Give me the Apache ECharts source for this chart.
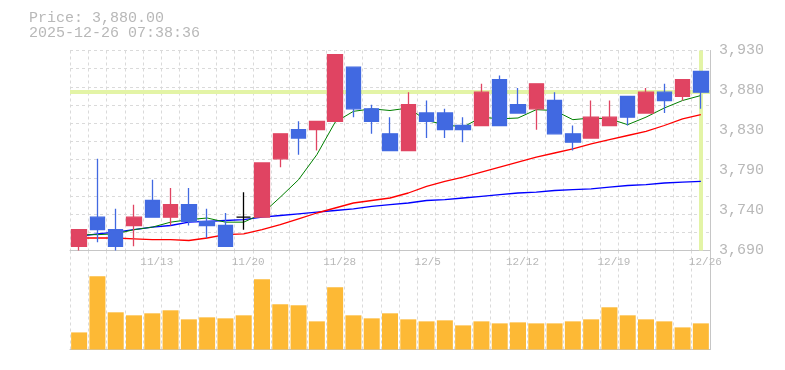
<!DOCTYPE html>
<html>
<head>
<meta charset="utf-8">
<script src="https://cdn.jsdelivr.net/npm/echarts@6/dist/echarts.min.js"></script>
<style>
html,body{margin:0;padding:0;background:#fff;}
#chart{width:785px;height:370px;}
</style>
</head>
<body>
<div id="chart"></div>
<script>
const dates = ['11/7','11/10','11/11','11/12','11/13','11/14','11/17','11/18','11/19','11/20','11/21','11/25','11/26','11/27','11/28','12/1','12/2','12/3','12/4','12/5','12/8','12/9','12/10','12/11','12/12','12/15','12/16','12/17','12/18','12/19','12/22','12/23','12/24','12/25','12/26'];
const opens  = [3695,3730,3715,3720,3750,3730,3745,3725,3720,3730,3730,3800,3835,3835,3845,3910,3860,3830,3810,3855,3855,3840,3840,3895,3865,3860,3870,3830,3825,3840,3875,3855,3880,3875,3905];
const closes = [3715,3715,3695,3730,3730,3745,3725,3720,3695,3730,3795,3830,3825,3845,3925,3860,3845,3810,3865,3845,3835,3835,3880,3840,3855,3890,3830,3820,3850,3850,3850,3880,3870,3895,3880];
const lows   = [3690,3700,3690,3695,3730,3720,3720,3705,3695,3715,3730,3790,3805,3810,3845,3850,3830,3810,3810,3825,3825,3820,3840,3840,3855,3835,3830,3810,3825,3840,3840,3855,3855,3870,3860];
const highs  = [3715,3800,3740,3745,3775,3765,3765,3740,3735,3760,3795,3830,3845,3845,3925,3910,3865,3850,3880,3870,3860,3850,3890,3900,3885,3890,3880,3840,3870,3870,3875,3885,3890,3895,3905];
const ma5    = [3709,3709,3710,3715,3718,3724,3727,3729,3724,3724,3734,3754,3775,3805,3844,3857,3860,3858,3861,3846,3841,3838,3850,3848,3849,3859,3858,3847,3849,3848,3841,3850,3861,3870,3876];
const ma25   = [3705,3705,3705,3704,3703,3703,3702,3705,3709,3710,3715,3721,3728,3735,3741,3747,3750,3753,3759,3767,3773,3778,3784,3790,3796,3802,3807,3812,3818,3823,3828,3833,3840,3848,3853];
const ma75   = [3707,3710,3712,3715,3718,3720,3724,3725,3726,3727,3730,3732,3734,3736,3738,3740,3743,3745,3747,3750,3751,3753,3755,3757,3759,3760,3762,3763,3764,3766,3768,3769,3771,3772,3773];
const volumes = [170,730,370,340,360,390,300,320,310,340,700,450,440,280,620,340,310,360,300,280,290,240,280,260,270,260,260,280,300,420,340,300,280,220,260];
const xTickLabels = ['11/13','11/20','11/28','12/5','12/12','12/19','12/26'];
const priceTicks = [3690,3738,3786,3834,3882,3930];
const currentPrice = 3880;
const timestamp = '2025-12-26 07:38:36';

const FONT = "'Liberation Mono', monospace";
const GRAY = '#b8b8b8';
const AXIS = '#c6c6c6';
const GRID = '#dadada';

const candleData = dates.map((d, i) => [opens[i], closes[i], lows[i], highs[i]]);
const fmt = v => (Math.round(v / 10) * 10).toLocaleString('en-US');

const chart = echarts.init(document.getElementById('chart'), null, {renderer: 'canvas'});
chart.setOption({
  animation: false,
  backgroundColor: '#fff',
  title: {
    left: 29, top: 11, padding: 0,
    text: 'Price: ' + currentPrice.toLocaleString('en-US', {minimumFractionDigits: 2}) + '\n' + timestamp,
    textStyle: {fontFamily: FONT, fontSize: 15, fontWeight: 'normal', color: GRAY, lineHeight: 14.5}
  },
  grid: [
    {left: 70, right: 75, top: 50.5, height: 200},
    {left: 70, right: 75, top: 250.5, height: 99}
  ],
  xAxis: [
    {
      type: 'category', gridIndex: 0, data: dates, boundaryGap: true,
      axisLine: {lineStyle: {color: AXIS, width: 1}},
      axisTick: {show: false},
      splitLine: {show: true, interval: 0, lineStyle: {color: GRID, type: [3, 3], width: 1}},
      axisLabel: {
        interval: (idx, val) => xTickLabels.includes(val),
        align: 'left', padding: [0, 0, 0, -12], margin: 6,
        fontFamily: FONT, fontSize: 11, color: GRAY, hideOverlap: false
      }
    },
    {
      type: 'category', gridIndex: 1, data: dates, boundaryGap: true,
      axisLine: {lineStyle: {color: AXIS, width: 1}},
      axisTick: {show: false},
      axisLabel: {show: false},
      splitLine: {show: true, interval: 0, lineStyle: {color: GRID, type: [3, 3], width: 1}}
    }
  ],
  yAxis: [
    {
      type: 'value', gridIndex: 0, position: 'right', min: 3690, max: 3930, scale: true,
      axisLine: {show: true, lineStyle: {color: AXIS, width: 1}},
      axisTick: {show: false},
      splitLine: {show: false},
      axisLabel: {
        customValues: priceTicks, formatter: fmt, margin: 9,
        padding: [5, 0, 0, 0],
        fontFamily: FONT, fontSize: 15, color: GRAY
      }
    },
    {
      type: 'value', gridIndex: 1, position: 'right', min: 0, max: 985,
      axisLine: {show: true, lineStyle: {color: AXIS, width: 1}},
      axisTick: {show: false}, axisLabel: {show: false}, splitLine: {show: false}
    },
    {
      type: 'value', gridIndex: 0, position: 'left', min: 0, max: 11, interval: 1,
      axisLine: {show: false}, axisTick: {show: false}, axisLabel: {show: false},
      splitLine: {show: true, lineStyle: {color: GRID, type: [3, 3], width: 1}}
    }
  ],
  series: [
    {
      type: 'line', name: 'MA75', xAxisIndex: 0, yAxisIndex: 0, data: ma75, z: 2,
      symbol: 'none', lineStyle: {color: '#0000ff', width: 1.3},
      markLine: {
        z: 1, silent: true, symbol: ['none', 'none'], label: {show: false},
        lineStyle: {color: '#e3f4a6', width: 4, type: 'solid', opacity: 1},
        data: [{yAxis: currentPrice}, {xAxis: dates[dates.length - 1]}]
      }
    },
    {
      type: 'line', name: 'MA25', xAxisIndex: 0, yAxisIndex: 0, data: ma25, z: 2,
      symbol: 'none', lineStyle: {color: '#ff0000', width: 1.3}
    },
    {
      type: 'line', name: 'MA5', xAxisIndex: 0, yAxisIndex: 0, data: ma5, z: 2,
      symbol: 'none', lineStyle: {color: '#008000', width: 1}
    },
    {
      type: 'candlestick', xAxisIndex: 0, yAxisIndex: 0, data: candleData, z: 4,
      barWidth: 15,
      itemStyle: {
        color: '#e04462', color0: '#4169e1',
        borderColor: '#e04462', borderColor0: '#4169e1',
        borderColorDoji: '#000000', borderWidth: 1.3
      }
    },
    {
      type: 'bar', xAxisIndex: 1, yAxisIndex: 1, data: volumes, barWidth: 16,
      itemStyle: {color: '#fdb935'}
    }
  ]
});
</script>
</body>
</html>
